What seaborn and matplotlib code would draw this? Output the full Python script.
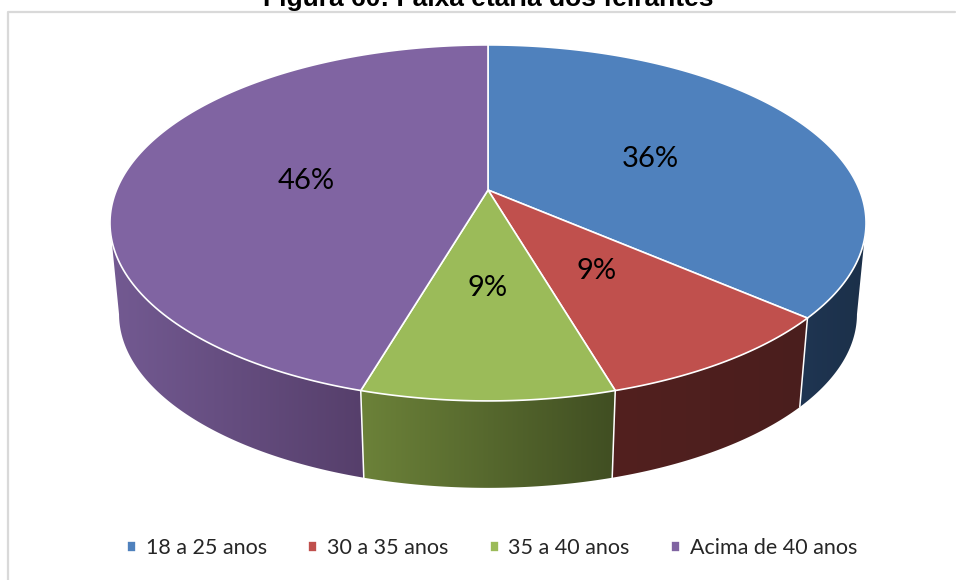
import numpy as np
import matplotlib
matplotlib.use("Agg")
import matplotlib.pyplot as plt
import seaborn as sns
from matplotlib.patches import Polygon

# data
categories = ["18 a 25 anos", "30 a 35 anos", "35 a 40 anos", "Acima de 40 anos"]
counts = [4, 1, 1, 5]
pct_labels = ["36%", "9%", "9%", "46%"]
top_colors = ["#4F81BD", "#C0504D", "#9BBB59", "#8064A2"]
wall_left = ["#1F3552", "#52201F", "#6C8239", "#735A92"]
wall_right = ["#1B3049", "#4A1E1D", "#404E22", "#563F6B"]
title = "Figura 60: Faixa etária dos feirantes"

# perspective of the pie, in pixels
APEX_X, APEX_Y = 488, 190
WALL_Y, WALL_SCALE = 282, 0.976
A, B, K = 371.5, 171.9, 0.185


def project(theta, r=1.0, base=False):
    # theta in degrees, clockwise from the top
    t = np.radians(theta)
    x = r * np.sin(t)
    y = r * np.cos(t)
    den = 1 + K * y
    px = A * x / den
    py = B * y / den
    if base:
        return APEX_X + WALL_SCALE * px, WALL_Y - WALL_SCALE * py
    return APEX_X + px, APEX_Y - py


def draw_wall(ax, t1, t2, c_left, c_right):
    th = np.linspace(t1, t2, 120)
    xt, yt = project(th)
    xb, yb = project(th, base=True)
    pts = np.r_[np.c_[xt, yt], np.c_[xb, yb][::-1]]
    poly = Polygon(pts, closed=True, fc="none", ec="none", transform=ax.transData)
    ax.add_patch(poly)
    cmap = sns.blend_palette([c_left, c_right], as_cmap=True)
    im = ax.imshow(np.linspace(0, 1, 256)[None, :], cmap=cmap, aspect="auto",
                   extent=[pts[:, 0].min(), pts[:, 0].max(), pts[:, 1].max(), pts[:, 1].min()],
                   interpolation="bilinear", zorder=1)
    im.set_clip_path(poly)


def main():
    sns.set_theme(style="white")
    plt.rcParams["font.family"] = ["Lato", "DejaVu Sans"]

    fig = plt.figure(figsize=(9.56, 5.80), dpi=100)
    ax = fig.add_axes([0, 0, 1, 1])
    ax.set_axis_off()

    # chart frame, the right side is cut off in the source
    ax.plot([8, 8, 955], [580, 11.5, 11.5], color="#D9D9D9", lw=1.6, zorder=0)

    edges = np.cumsum([0] + counts) / sum(counts) * 360
    dense = np.linspace(0, 360, 1441)
    t_right = dense[np.argmax(project(dense)[0])]
    t_left = dense[np.argmin(project(dense)[0])]

    # side walls
    starts = [t_right, edges[1], edges[2], edges[3]]
    stops = [edges[1], edges[2], edges[3], t_left]
    for i in range(4):
        draw_wall(ax, starts[i], stops[i], wall_left[i], wall_right[i])
    for e in edges[1:4]:
        xt, yt = project(e)
        xb, yb = project(e, base=True)
        ax.plot([xt, xb], [yt, yb], color="white", lw=1.1, zorder=2)

    # top face
    for i, cat in enumerate(categories):
        th = np.linspace(edges[i], edges[i + 1], 150)
        x, y = project(th)
        ax.fill(np.r_[APEX_X, x], np.r_[APEX_Y, y], color=top_colors[i],
                ec="white", lw=1.2, label=cat, zorder=3, joinstyle="round")
        mid = (edges[i] + edges[i + 1]) / 2
        lx, ly = project(mid, r=0.5)
        ax.text(lx, ly + 3, pct_labels[i], ha="center", va="center", fontsize=21,
                color="black", zorder=4)

    ax.text(488, 6, title, ha="center", va="baseline", fontsize=19,
            family="Liberation Sans", fontweight="bold", color="black")

    ax.set_xlim(0, 956)
    ax.set_ylim(580, 0)

    ax.legend(loc="center", bbox_to_anchor=(492, 548), bbox_transform=ax.transData,
              ncol=4, frameon=False, fontsize=15.5, handlelength=0.42, handleheight=0.42,
              handletextpad=0.45, columnspacing=1.92, borderpad=0)

    plt.savefig("out.png", dpi=100)


if __name__ == "__main__":
    main()
